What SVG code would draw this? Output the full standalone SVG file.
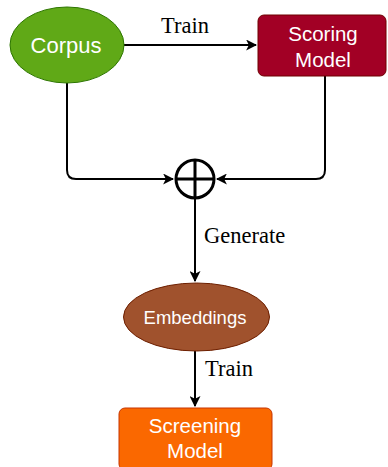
<svg xmlns="http://www.w3.org/2000/svg" width="388" height="467" viewBox="0 0 388 467">
  <defs>
    <marker id="arrow" viewBox="0 0 10 10" refX="9" refY="5" markerWidth="11" markerHeight="11" markerUnits="userSpaceOnUse" orient="auto">
      <path d="M0,0 L10,5 L0,10 L2.5,5 Z" fill="#000"/>
    </marker>
  </defs>
  <style>
    .node-text { font-family: "Liberation Sans", Arial, sans-serif; fill: #ffffff; text-anchor: middle; }
    .edge { fill: none; stroke: #000; stroke-width: 2; }
    .label { font-family: "Liberation Serif", "Times New Roman", serif; font-size: 22.5px; fill: #000; }
  </style>
  <rect width="388" height="467" fill="#ffffff"/>

  <g id="connectors">
    <path class="edge" d="M124,45 L256,45" marker-end="url(#arrow)"/>
    <path class="edge" d="M67,83 L67,170 Q67,179 76,179 L173,179" marker-end="url(#arrow)"/>
    <path class="edge" d="M325,76 L325,170 Q325,179 316,179 L217,179" marker-end="url(#arrow)"/>
    <path class="edge" d="M195,199 L195,281" marker-end="url(#arrow)"/>
    <path class="edge" d="M195,351 L195,406" marker-end="url(#arrow)"/>
    <text class="label" x="185" y="33" text-anchor="middle">Train</text>
    <text class="label" x="204" y="243">Generate</text>
    <text class="label" x="205" y="376">Train</text>
  </g>

  <g id="corpus">
    <ellipse cx="67" cy="45" rx="57" ry="38" fill="#60a917" stroke="#2d7600" stroke-width="1"/>
    <text class="node-text" x="66" y="53" font-size="22">Corpus</text>
  </g>

  <g id="scoring-model">
    <rect x="258" y="15" width="128" height="61" rx="6" fill="#a20025" stroke="#6f0000" stroke-width="1"/>
    <text class="node-text" x="323" y="41" font-size="20.5">Scoring</text>
    <text class="node-text" x="323" y="67" font-size="20.5">Model</text>
  </g>

  <g id="combine">
    <circle cx="195" cy="179" r="19" fill="#ffffff" stroke="#000" stroke-width="3"/>
    <path d="M195,160 L195,198 M176,179 L214,179" stroke="#000" stroke-width="3" fill="none"/>
  </g>

  <g id="embeddings">
    <ellipse cx="196.5" cy="317" rx="73" ry="34" fill="#a0522d" stroke="#6d1f00" stroke-width="1"/>
    <text class="node-text" x="195" y="324" font-size="18.5">Embeddings</text>
  </g>

  <g id="screening-model">
    <rect x="119" y="408" width="153" height="62" rx="6" fill="#fa6800" stroke="#c73500" stroke-width="1"/>
    <text class="node-text" x="195" y="433" font-size="20.5">Screening</text>
    <text class="node-text" x="195" y="458" font-size="20.5">Model</text>
  </g>
</svg>
